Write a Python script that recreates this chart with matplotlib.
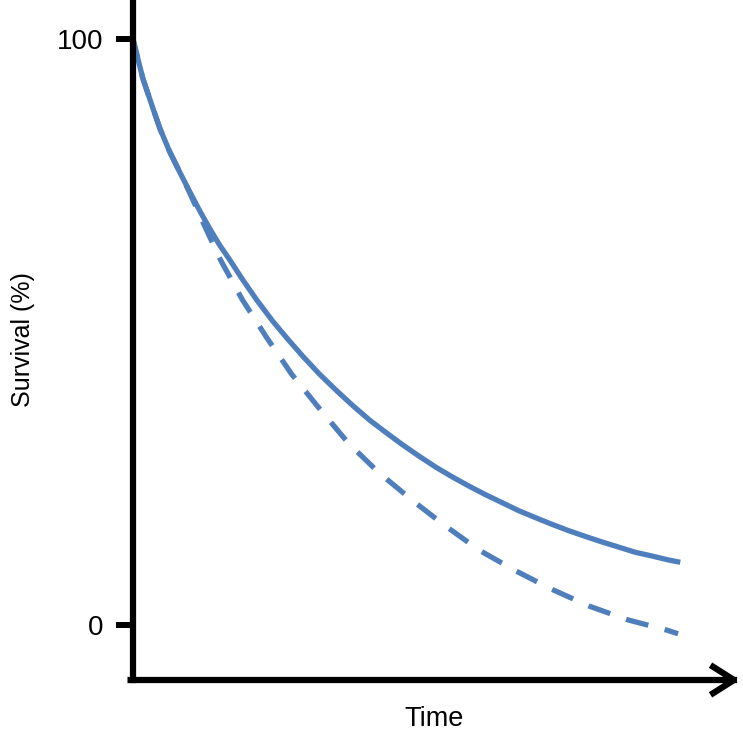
import matplotlib
matplotlib.use("Agg")
import matplotlib.pyplot as plt

plt.rcParams['font.family'] = ['Liberation Sans', 'DejaVu Sans']

# values (time in arbitrary units 0-10, survival in %)
t_solid = [0.00, 0.18, 0.35, 0.49, 0.67, 0.86, 1.04, 1.22, 1.40, 1.58, 1.77, 2.00, 2.26,
           2.55, 2.81, 3.10, 3.41, 3.72, 4.01, 4.32, 4.63, 4.92, 5.23, 5.54, 5.83, 6.14,
           6.45, 6.74, 7.05, 7.36, 7.65, 7.96, 8.27, 8.56, 8.87, 9.18, 9.47, 9.78, 10.0]
s_solid = [100.0, 93.3, 88.6, 84.8, 80.8, 77.2, 73.9, 70.7, 67.7, 64.9, 62.3, 59.0, 55.5,
           51.9, 49.0, 45.9, 42.8, 40.0, 37.5, 35.0, 32.8, 30.8, 28.8, 26.9, 25.3, 23.7,
           22.2, 20.9, 19.5, 18.3, 17.2, 16.1, 15.1, 14.2, 13.3, 12.4, 11.8, 11.1, 10.7]

t_dash = [0.00, 0.18, 0.35, 0.49, 0.67, 0.86, 1.04, 1.31, 1.60, 2.00, 2.44, 2.90, 3.41,
          3.93, 4.48, 5.10, 5.68, 6.32, 6.98, 7.65, 8.34, 9.03, 9.76, 9.96]
s_dash = [100.0, 93.3, 88.6, 84.8, 80.8, 77.2, 73.7, 68.1, 62.3, 55.5, 49.1, 42.8, 36.9,
          31.1, 26.1, 21.3, 17.1, 12.8, 9.3, 6.1, 3.2, 0.9, -0.9, -1.5]

yticks = [0, 100]
ytick_labels = ['0', '100']

blue = '#4f7ebd'

fig = plt.figure(figsize=(7.43, 7.39), dpi=100)
ax = fig.add_axes([133 / 743, 59 / 739, (735 - 133) / 743, 680 / 739])

ax.plot(t_dash, s_dash, color=blue, lw=3.8, linestyle=(0.76, (4.36, 3.2)),
        dash_capstyle='butt')
ax.plot(t_solid, s_solid, color=blue, lw=3.8, solid_capstyle='butt',
        solid_joinstyle='round')

ax.set_xlim(0, 11.0)
ax.set_ylim(-9.4, 106.7)

for s in ['top', 'right', 'bottom']:
    ax.spines[s].set_visible(False)
ax.spines['left'].set_linewidth(4.5)
ax.spines['left'].set_capstyle('projecting')

# x axis drawn as an open arrow
ax.annotate('', xy=(1.008, 0.0), xytext=(-0.004, 0.0), xycoords='axes fraction',
            arrowprops=dict(arrowstyle='->,head_length=1.5,head_width=0.95',
                            lw=4.5, color='black', mutation_scale=10,
                            shrinkA=0, shrinkB=0, capstyle='projecting'),
            annotation_clip=False)

ax.set_xticks([])
ax.set_yticks(yticks)
ax.set_yticklabels(ytick_labels)
ax.tick_params(axis='y', length=12, width=4.3, labelsize=20, pad=9)

ax.set_xlabel('Time', fontsize=19.5, labelpad=19)
ax.set_ylabel('Survival (%)', fontsize=18, labelpad=16)

fig.savefig('out.png', dpi=100)
